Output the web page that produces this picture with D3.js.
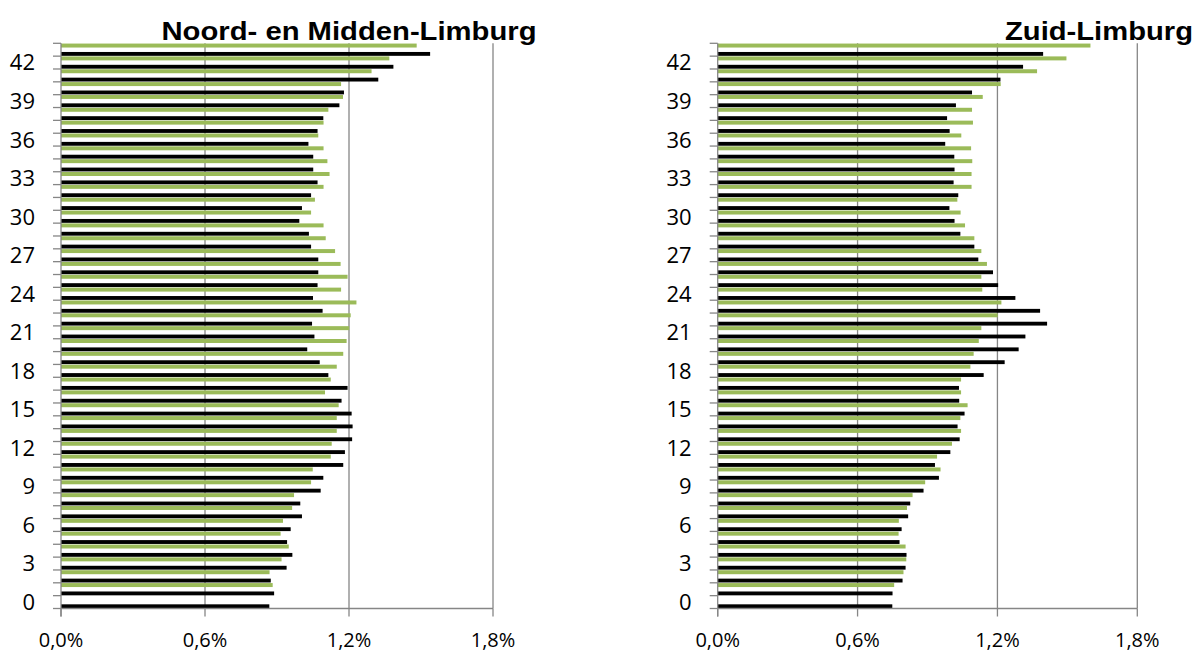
<!DOCTYPE html>
<html>
<head>
<meta charset="utf-8">
<script src="https://cdn.jsdelivr.net/npm/d3@7/dist/d3.min.js"></script>
<style>
  body { margin: 0; background: #fff; }
  svg { display: block; }
</style>
</head>
<body>
<svg id="chart" width="1201" height="653"></svg>
<script>
// Ages 0..43
const ages = d3.range(0, 44);
const tickAges = [0, 3, 6, 9, 12, 15, 18, 21, 24, 27, 30, 33, 36, 39, 42];
const xTicks = [0, 0.6, 1.2, 1.8];

// Noord- en Midden-Limburg (percent)
const nmBlack = [0.868, 0.888, 0.874, 0.940, 0.964, 0.942, 0.957, 1.004, 0.997, 1.082,
  1.093, 1.176, 1.183, 1.213, 1.215, 1.211, 1.169, 1.194, 1.114, 1.078,
  1.026, 1.056, 1.046, 1.090, 1.050, 1.069, 1.072, 1.072, 1.042, 1.033,
  0.993, 1.004, 1.042, 1.069, 1.051, 1.051, 1.031, 1.069, 1.093, 1.160,
  1.179, 1.322, 1.385, 1.538];
const nmGreen = [null, 0.882, 0.869, 0.919, 0.949, 0.915, 0.925, 0.963, 0.971, 1.042,
  1.049, 1.124, 1.128, 1.149, 1.149, 1.157, 1.100, 1.124, 1.149, 1.176,
  1.190, 1.201, 1.207, 1.231, 1.167, 1.194, 1.165, 1.142, 1.103, 1.094,
  1.042, 1.058, 1.094, 1.119, 1.110, 1.094, 1.072, 1.094, 1.114, 1.175,
  1.167, 1.294, 1.368, 1.482];

// Zuid-Limburg (percent)
const zlBlack = [0.749, 0.750, 0.793, 0.806, 0.810, 0.780, 0.789, 0.817, 0.826, 0.883,
  0.949, 0.932, 0.998, 1.038, 1.029, 1.059, 1.036, 1.035, 1.141, 1.231,
  1.291, 1.320, 1.413, 1.383, 1.277, 1.203, 1.181, 1.118, 1.101, 1.041,
  1.016, 0.994, 1.032, 1.012, 1.016, 1.015, 0.976, 0.995, 0.984, 1.022,
  1.091, 1.213, 1.310, 1.396];
const zlGreen = [null, 0.757, 0.797, 0.809, 0.806, 0.776, 0.777, 0.812, 0.836, 0.890,
  0.956, 0.941, 1.005, 1.044, 1.041, 1.072, 1.044, 1.044, 1.084, 1.098,
  1.120, 1.131, 1.201, 1.217, 1.135, 1.131, 1.155, 1.131, 1.101, 1.061,
  1.042, 1.028, 1.089, 1.089, 1.092, 1.087, 1.045, 1.095, 1.091, 1.137,
  1.214, 1.370, 1.496, 1.599];

const titles = ["Noord- en Midden-Limburg", "Zuid-Limburg"];

const svg = d3.select("#chart");
const GREEN = "#9bbb59";
const GRID = "#868686";
const FONT = "Open Sans, sans-serif";
const fmt = v => d3.format(".1f")(v).replace(".", ",") + "%";

function panel(opts) {
  const { x0, x1, black, green, title, titleX, titleW, titleAnchor } = opts;
  const top = 43.3, bottom = 608.5;
  const x = d3.scaleLinear().domain([0, 1.8]).range([x0, x1]);
  const y = d3.scaleBand().domain(ages.slice().reverse()).range([top, bottom]).padding(0);
  const bw = y.bandwidth();
  const g = svg.append("g");

  // gridlines
  g.selectAll("line.grid").data(xTicks.filter(t => t > 0)).join("line")
    .attr("x1", d => x(d)).attr("x2", d => x(d))
    .attr("y1", top).attr("y2", bottom)
    .attr("stroke", GRID).attr("stroke-width", 1.3);

  // green bars (top of band)
  g.selectAll("rect.g").data(ages.filter(a => green[a] != null)).join("rect")
    .attr("x", x(0)).attr("y", a => y(a) + 0.02 * bw)
    .attr("width", a => x(green[a]) - x(0)).attr("height", 0.31 * bw)
    .attr("fill", GREEN);

  // black bars (bottom of band)
  g.selectAll("rect.b").data(ages).join("rect")
    .attr("x", x(0)).attr("y", a => y(a) + 0.675 * bw)
    .attr("width", a => x(black[a]) - x(0)).attr("height", 0.30 * bw)
    .attr("fill", "#000");

  // y axis line + ticks at band boundaries
  g.append("line").attr("x1", x(0)).attr("x2", x(0)).attr("y1", top).attr("y2", bottom + 8)
    .attr("stroke", GRID).attr("stroke-width", 1.3);
  const bounds = d3.range(0, 45).map(i => top + i * bw);
  g.selectAll("line.yt").data(bounds).join("line")
    .attr("x1", x(0) - 8).attr("x2", x(0)).attr("y1", d => d).attr("y2", d => d)
    .attr("stroke", GRID).attr("stroke-width", 1.3);

  // x axis line and ticks
  g.append("line").attr("x1", x(0)).attr("x2", x(1.8)).attr("y1", bottom).attr("y2", bottom)
    .attr("stroke", GRID).attr("stroke-width", 1.3);
  g.selectAll("line.xt").data(xTicks).join("line")
    .attr("x1", d => x(d)).attr("x2", d => x(d)).attr("y1", bottom).attr("y2", bottom + 8)
    .attr("stroke", GRID).attr("stroke-width", 1.3);

  // y labels
  g.selectAll("text.yl").data(tickAges).join("text")
    .attr("x", x(0) - 26).attr("y", a => y(a) + bw / 2)
    .attr("dy", "0.36em").attr("text-anchor", "end")
    .attr("font-family", FONT).attr("font-size", 22)
    .attr("fill", "#000").text(a => a);

  // x labels
  g.selectAll("text.xl").data(xTicks).join("text")
    .attr("x", d => x(d)).attr("y", 647).attr("text-anchor", "middle")
    .attr("font-family", FONT).attr("font-size", 20)
    .attr("fill", "#000").text(fmt);

  // title
  g.append("text").attr("x", titleX).attr("y", 39.5).attr("text-anchor", titleAnchor)
    .attr("font-family", "Liberation Sans, Arial, sans-serif").attr("font-weight", "bold")
    .attr("font-size", 26).attr("textLength", titleW).attr("lengthAdjust", "spacingAndGlyphs")
    .attr("fill", "#000").text(title);
}

panel({ x0: 61, x1: 493, black: nmBlack, green: nmGreen, title: titles[0], titleX: 349, titleW: 375, titleAnchor: "middle" });
panel({ x0: 717.7, x1: 1137.3, black: zlBlack, green: zlGreen, title: titles[1], titleX: 1193, titleW: 188, titleAnchor: "end" });
</script>
</body>
</html>
